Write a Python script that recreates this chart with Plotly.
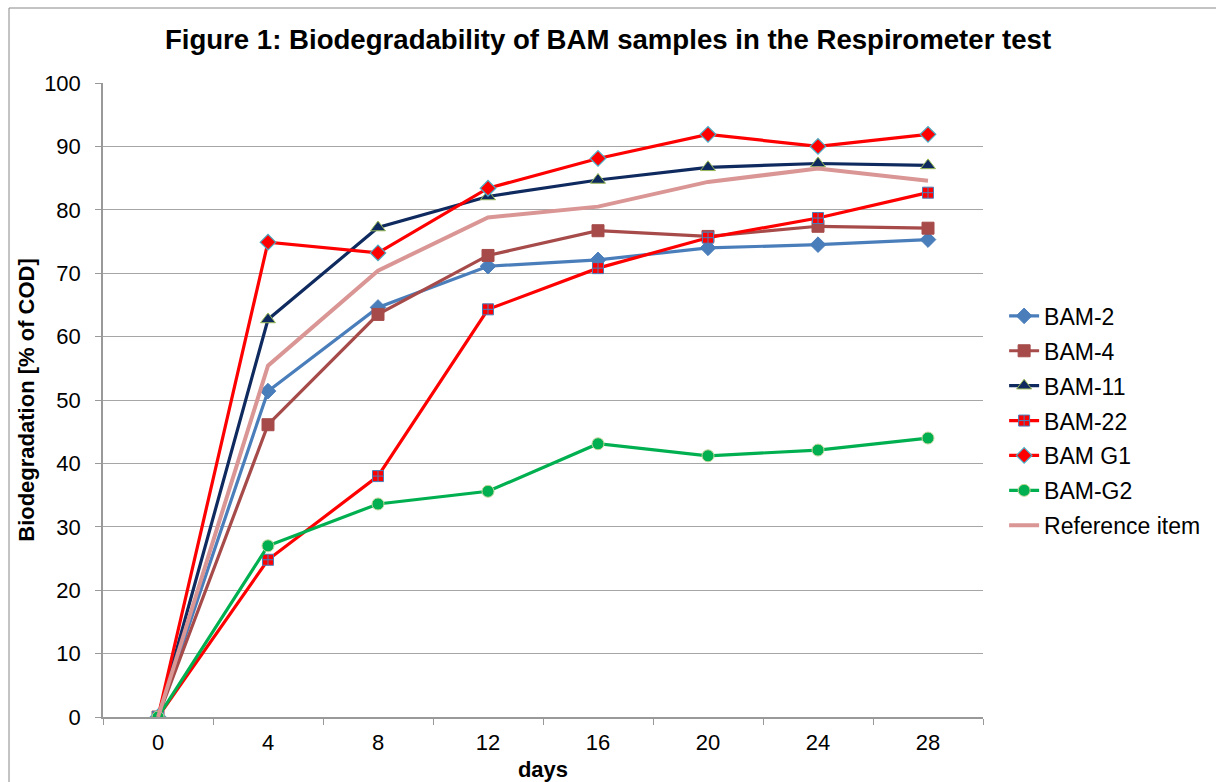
import plotly.graph_objects as go

days = [0, 4, 8, 12, 16, 20, 24, 28]
bam2 = [0, 51.4, 64.6, 71.1, 72.1, 74.0, 74.5, 75.3]
bam4 = [0, 46.1, 63.5, 72.8, 76.7, 75.8, 77.4, 77.1]
bam11 = [0, 62.7, 77.2, 82.1, 84.7, 86.7, 87.3, 87.0]
bam22 = [0, 24.8, 38.0, 64.3, 70.8, 75.6, 78.7, 82.7]
bamg1 = [0, 74.9, 73.2, 83.4, 88.1, 91.9, 90.0, 91.9]
bamg2 = [0, 27.0, 33.6, 35.6, 43.1, 41.2, 42.1, 44.0]
reference = [0, 55.4, 70.4, 78.8, 80.5, 84.4, 86.5, 84.6]

FONT = "Arial, Liberation Sans, sans-serif"

series = [
    ("BAM-2", bam2, "#4A7EBB", dict(symbol="diamond", size=12, color="#4A7EBB", line=dict(color="#4A7EBB", width=1))),
    ("BAM-4", bam4, "#A64B4A", dict(symbol="square", size=12, color="#A64B4A", line=dict(color="#A64B4A", width=1))),
    ("BAM-11", bam11, "#0F2A5F", dict(symbol="triangle-up", size=13, color="#0F2A5F", line=dict(color="#9BBB59", width=1))),
    ("BAM-22", bam22, "#FF0000", dict(symbol="square-cross", size=11, color="#FF0000", line=dict(color="#4A7EBB", width=1))),
    ("BAM G1", bamg1, "#FF0000", dict(symbol="diamond", size=12, color="#FF0000", line=dict(color="#4BACC6", width=1.2))),
    ("BAM-G2", bamg2, "#00B050", dict(symbol="circle", size=12, color="#00B050", line=dict(color="#C3D69B", width=1))),
]

fig = go.Figure()
for name, vals, col, mk in series:
    fig.add_trace(go.Scatter(x=days, y=vals, name=name, mode="lines+markers",
                             line=dict(color=col, width=3.2), marker=mk, legendgroup=name))
fig.add_trace(go.Scatter(x=days, y=reference, name="Reference item", mode="lines",
                         line=dict(color="#D99694", width=4), legendgroup="ref"))

fig.update_layout(
    width=1216, height=782,
    margin=dict(l=103, r=233, t=83, b=65, autoexpand=False),
    paper_bgcolor="white", plot_bgcolor="white",
    font=dict(family=FONT, size=22, color="black"),
    title=dict(text="<b>Figure 1: Biodegradability of BAM samples in the Respirometer test</b>",
               x=0.5, xanchor="center", y=1 - 39 / 782, yanchor="middle", yref="container",
               font=dict(size=27.6, family=FONT, color="black")),
    legend=dict(x=1.024, xanchor="left", y=0.467, yanchor="middle",
                font=dict(size=23, family=FONT), tracegroupgap=2, itemwidth=30,
                bgcolor="rgba(0,0,0,0)"),
    showlegend=True,
)
fig.update_xaxes(
    range=[-2, 30], tickvals=days, ticktext=[str(d) for d in days],
    ticks="outside", ticklen=5, tickcolor="rgba(0,0,0,0)",
    minor=dict(tickvals=[-2, 2, 6, 10, 14, 18, 22, 26, 30], ticks="outside", ticklen=6, tickcolor="#999999", showgrid=False),
    showline=True, linecolor="#999999", linewidth=1.5, showgrid=False, zeroline=False,
    tickfont=dict(size=22), ticklabelstandoff=0, automargin=False,
    title=dict(text="<b>days</b>", font=dict(size=22), standoff=8),
)
fig.update_yaxes(
    range=[0, 100], dtick=10, ticks="outside", ticklen=6, tickcolor="#999999",
    showline=True, linecolor="#999999", linewidth=1.5,
    showgrid=True, gridcolor="#A6A6A6", gridwidth=1.2, zeroline=False,
    tickfont=dict(size=22), ticklabelstandoff=10, automargin=False,
    title=dict(text="<b>Biodegradation [% of COD]</b>", font=dict(size=22), standoff=3),
)
fig.add_shape(type="rect", xref="paper", yref="paper",
              x0=(9 - 103) / 880, x1=(1230 - 103) / 880,
              y0=(717 - 800) / 634, y1=(717 - 8) / 634,
              line=dict(color="#888888", width=1), fillcolor="rgba(0,0,0,0)", layer="below")

fig.write_html("out.html", post_script="document.body.style.margin='0';",
               config={"displayModeBar": False})
